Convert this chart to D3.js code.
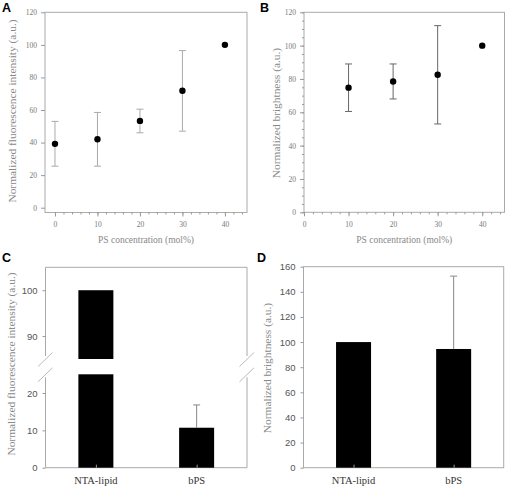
<!DOCTYPE html>
<html><head><meta charset="utf-8">
<script src="https://cdn.jsdelivr.net/npm/d3@7"></script>
<style>
body{margin:0;background:#fff;}
svg{display:block;}
</style></head>
<body>
<svg id="c" width="506" height="487"></svg>
<script>
// ---- data ----
const psA = [0, 10, 20, 30, 40];
const meanA = [39.2, 42, 53.3, 71.8, 100];
const lowA = [25.5, 25.5, 46, 47, null];
const highA = [53, 58.5, 60.5, 96.5, null];

const psB = [10, 20, 30, 40];
const meanB = [74.8, 78.5, 82.5, 100];
const lowB = [60.5, 68, 53, null];
const highB = [89, 89, 112, null];

const catsCD = ["NTA-lipid", "bPS"];
const meanC = [100, 10.7];
const errC = [null, 6.1];
const meanD = [100, 94.5];
const errD = [null, 58];

const ticksA_y = [0, 20, 40, 60, 80, 100, 120];
const ticksA_x = [0, 10, 20, 30, 40];
const ticksB_y = [0, 20, 40, 60, 80, 100, 120];
const ticksB_x = [0, 10, 20, 30, 40];
const ticksC_upper = [90, 100];
const ticksC_lower = [0, 10, 20];
const ticksD_y = [0, 20, 40, 60, 80, 100, 120, 140, 160];

const svg = d3.select("#c");
const serif = "'Liberation Serif','Times New Roman',serif";
const sans = "'Liberation Sans',Arial,sans-serif";
const axisCol = "#999";
const tickTxt = "#777";

function styleAxis(g, fontFam, fontSize, col) {
  g.select(".domain").remove();
  g.selectAll(".tick line").attr("stroke", axisCol);
  g.selectAll(".tick text").attr("fill", col).style("font-family", fontFam).style("font-size", fontSize + "px");
}
function frame(x0, x1, y0, y1) {
  svg.append("rect").attr("x", x0).attr("y", y0).attr("width", x1 - x0).attr("height", y1 - y0)
    .attr("fill", "none").attr("stroke", "#aaa").attr("stroke-width", 1);
}
function letter(t, x, y) {
  svg.append("text").attr("x", x).attr("y", y).text(t)
    .style("font-family", sans).style("font-weight", "bold").style("font-size", "12.5px").attr("fill", "#000");
}
function ylabel(t, x, y, size) {
  svg.append("text").attr("transform", `translate(${x},${y}) rotate(-90)`).attr("text-anchor", "middle")
    .attr("dominant-baseline", "middle")
    .text(t).style("font-family", serif).style("font-size", size + "px").attr("fill", "#888");
}
function xlabel(t, x, y, size) {
  svg.append("text").attr("x", x).attr("y", y).attr("text-anchor", "middle")
    .text(t).style("font-family", serif).style("font-size", size + "px").attr("fill", "#888");
}

// ---------- Panel A ----------
{
  const L = 45, R = 247, T = 12.3, B = 212.5;
  const x = d3.scaleLinear().domain([-2.35, 45.2]).range([L, R]);
  const y = d3.scaleLinear().domain([-2.95, 120]).range([B, T]);
  frame(L, R, T, B);
  svg.append("g").attr("transform", `translate(0,${B})`)
    .call(d3.axisBottom(x).tickValues(d3.range(0, 45, 2)).tickSize(2).tickFormat(""))
    .call(g => styleAxis(g, serif, 7.5, tickTxt));
  svg.append("g").attr("transform", `translate(0,${B})`)
    .call(d3.axisBottom(x).tickValues(ticksA_x).tickSize(4).tickPadding(5))
    .call(g => styleAxis(g, serif, 7.5, tickTxt));
  svg.append("g").attr("transform", `translate(${L},0)`)
    .call(d3.axisLeft(y).tickValues(ticksA_y).tickSize(4).tickPadding(4))
    .call(g => styleAxis(g, serif, 7.5, tickTxt));
  const idx = d3.range(psA.length).filter(i => lowA[i] != null);
  const eb = svg.append("g").attr("stroke", "#aaa").attr("stroke-width", 1);
  eb.selectAll(".v").data(idx).join("line").attr("x1", i => x(psA[i])).attr("x2", i => x(psA[i]))
    .attr("y1", i => y(lowA[i])).attr("y2", i => y(highA[i]));
  eb.selectAll(".t").data(idx).join("line").attr("x1", i => x(psA[i]) - 3.5).attr("x2", i => x(psA[i]) + 3.5)
    .attr("y1", i => y(highA[i])).attr("y2", i => y(highA[i]));
  eb.selectAll(".b").data(idx).join("line").attr("x1", i => x(psA[i]) - 3.5).attr("x2", i => x(psA[i]) + 3.5)
    .attr("y1", i => y(lowA[i])).attr("y2", i => y(lowA[i]));
  svg.append("g").selectAll("circle").data(psA).join("circle")
    .attr("cx", d => x(d)).attr("cy", (d, i) => y(meanA[i])).attr("r", 3.2).attr("fill", "#000");
  letter("A", 2, 12);
  ylabel("Normalized fluorescence intensity (a.u.)", 13, 111, 11.4);
  xlabel("PS concentration (mol%)", (L + R) / 2, 243, 9.5);
}

// ---------- Panel B ----------
{
  const L = 304, R = 504.5, T = 12.3, B = 212.3;
  const x = d3.scaleLinear().domain([0, 45]).range([L, R]);
  const y = d3.scaleLinear().domain([0, 120]).range([B, T]);
  frame(L, R, T, B);
  svg.append("g").attr("transform", `translate(0,${B})`)
    .call(d3.axisBottom(x).tickValues(d3.range(0, 45, 2)).tickSize(2).tickFormat(""))
    .call(g => styleAxis(g, serif, 7.5, tickTxt));
  svg.append("g").attr("transform", `translate(0,${B})`)
    .call(d3.axisBottom(x).tickValues(ticksB_x).tickSize(4).tickPadding(5))
    .call(g => styleAxis(g, serif, 7.5, tickTxt));
  svg.append("g").attr("transform", `translate(${L},0)`)
    .call(d3.axisLeft(y).tickValues(d3.range(0, 121, 5)).tickSize(2).tickFormat(""))
    .call(g => styleAxis(g, serif, 7.5, tickTxt));
  svg.append("g").attr("transform", `translate(${L},0)`)
    .call(d3.axisLeft(y).tickValues(ticksB_y).tickSize(4).tickPadding(4))
    .call(g => styleAxis(g, serif, 7.5, tickTxt));
  const idx = d3.range(psB.length).filter(i => lowB[i] != null);
  const eb = svg.append("g").attr("stroke", "#666").attr("stroke-width", 1);
  eb.selectAll(".v").data(idx).join("line").attr("x1", i => x(psB[i])).attr("x2", i => x(psB[i]))
    .attr("y1", i => y(lowB[i])).attr("y2", i => y(highB[i]));
  eb.selectAll(".t").data(idx).join("line").attr("x1", i => x(psB[i]) - 3.5).attr("x2", i => x(psB[i]) + 3.5)
    .attr("y1", i => y(highB[i])).attr("y2", i => y(highB[i]));
  eb.selectAll(".b").data(idx).join("line").attr("x1", i => x(psB[i]) - 3.5).attr("x2", i => x(psB[i]) + 3.5)
    .attr("y1", i => y(lowB[i])).attr("y2", i => y(lowB[i]));
  svg.append("g").selectAll("circle").data(psB).join("circle")
    .attr("cx", d => x(d)).attr("cy", (d, i) => y(meanB[i])).attr("r", 3.2).attr("fill", "#000");
  letter("B", 260, 12);
  ylabel("Normalized brightness (a.u.)", 277, 113, 11.4);
  xlabel("PS concentration (mol%)", (L + R) / 2, 243, 9.5);
}

// ---------- Panel C (broken axis) ----------
{
  const L = 45.5, R = 247, T = 267.3, B = 467.7;
  const x = d3.scalePoint().domain(catsCD).range([L, R]).padding(0.5);
  const yU = d3.scaleLinear().domain([85, 105]).range([359, T]);
  const yL = d3.scaleLinear().domain([0, 25]).range([B, 374.3]);
  const bw = 35;
  // frame with breaks
  const fr = svg.append("g").attr("stroke", "#aaa").attr("fill", "none");
  fr.append("line").attr("x1", L).attr("x2", R).attr("y1", T).attr("y2", T);
  fr.append("line").attr("x1", L).attr("x2", R).attr("y1", B).attr("y2", B);
  [L, R].forEach(xx => {
    fr.append("line").attr("x1", xx).attr("x2", xx).attr("y1", T).attr("y2", yU(85) - 3);
    fr.append("line").attr("x1", xx).attr("x2", xx).attr("y1", yL(25) + 3).attr("y2", B);
    [yU(85) + 0.5, yL(25) + 0.5].forEach(yy => {
      fr.append("line").attr("x1", xx - 7.5).attr("x2", xx + 7).attr("y1", yy + 7).attr("y2", yy - 7)
        .attr("stroke", "#bbb");
    });
  });
  svg.append("g").attr("transform", `translate(${L},0)`)
    .call(d3.axisLeft(yU).tickValues(ticksC_upper).tickSize(3).tickPadding(5))
    .call(g => styleAxis(g, sans, 9.5, "#555"));
  svg.append("g").attr("transform", `translate(${L},0)`)
    .call(d3.axisLeft(yL).tickValues(ticksC_lower).tickSize(3).tickPadding(5))
    .call(g => styleAxis(g, sans, 9.5, "#555"));
  // bars: upper and lower parts
  const bars = svg.append("g").attr("fill", "#000");
  bars.selectAll(".u").data(catsCD.filter((c, i) => meanC[i] > 85)).join("rect")
    .attr("x", d => x(d) - bw / 2).attr("width", bw)
    .attr("y", d => yU(Math.min(meanC[catsCD.indexOf(d)], 105))).attr("height", d => yU(85) - yU(meanC[catsCD.indexOf(d)]));
  bars.selectAll(".l").data(catsCD).join("rect")
    .attr("x", d => x(d) - bw / 2).attr("width", bw)
    .attr("y", (d, i) => yL(Math.min(meanC[i], 25))).attr("height", (d, i) => yL(0) - yL(Math.min(meanC[i], 25)));
  const ei = d3.range(catsCD.length).filter(i => errC[i] != null);
  const eb = svg.append("g").attr("stroke", "#888");
  eb.selectAll(".v").data(ei).join("line").attr("x1", i => x(catsCD[i])).attr("x2", i => x(catsCD[i]))
    .attr("y1", i => yL(meanC[i])).attr("y2", i => yL(meanC[i] + errC[i]));
  eb.selectAll(".c").data(ei).join("line").attr("x1", i => x(catsCD[i]) - 3.5).attr("x2", i => x(catsCD[i]) + 3.5)
    .attr("y1", i => yL(meanC[i] + errC[i])).attr("y2", i => yL(meanC[i] + errC[i]));
  svg.append("g").attr("transform", `translate(0,${B})`)
    .call(d3.axisTop(x).tickSize(3).tickFormat(""))
    .call(g => styleAxis(g, serif, 10.5, "#333"));
  svg.append("g").selectAll("text").data(catsCD).join("text")
    .attr("x", d => x(d)).attr("y", 484).attr("text-anchor", "middle").text(d => d)
    .style("font-family", serif).style("font-size", "10.5px").attr("fill", "#333");
  letter("C", 2, 262);
  ylabel("Normalized fluorescence intensity (a.u.)", 12, 364, 11.4);
}

// ---------- Panel D ----------
{
  const L = 303.5, R = 503.7, T = 266.7, B = 467.7;
  const x = d3.scalePoint().domain(catsCD).range([L, R]).padding(0.5);
  const y = d3.scaleLinear().domain([0, 160]).range([B, T]);
  const bw = 35;
  frame(L, R, T, B);
  svg.append("g").attr("transform", `translate(${L},0)`)
    .call(d3.axisLeft(y).tickValues(ticksD_y).tickSize(3).tickPadding(5))
    .call(g => styleAxis(g, sans, 9.5, "#555"));
  svg.append("g").attr("fill", "#000").selectAll("rect").data(catsCD).join("rect")
    .attr("x", d => x(d) - bw / 2).attr("width", bw)
    .attr("y", (d, i) => y(meanD[i])).attr("height", (d, i) => y(0) - y(meanD[i]));
  const ei = d3.range(catsCD.length).filter(i => errD[i] != null);
  const eb = svg.append("g").attr("stroke", "#888");
  eb.selectAll(".v").data(ei).join("line").attr("x1", i => x(catsCD[i])).attr("x2", i => x(catsCD[i]))
    .attr("y1", i => y(meanD[i])).attr("y2", i => y(meanD[i] + errD[i]));
  eb.selectAll(".c").data(ei).join("line").attr("x1", i => x(catsCD[i]) - 3.5).attr("x2", i => x(catsCD[i]) + 3.5)
    .attr("y1", i => y(meanD[i] + errD[i])).attr("y2", i => y(meanD[i] + errD[i]));
  svg.append("g").attr("transform", `translate(0,${B})`)
    .call(d3.axisTop(x).tickSize(3).tickFormat(""))
    .call(g => styleAxis(g, serif, 10.5, "#333"));
  svg.append("g").selectAll("text").data(catsCD).join("text")
    .attr("x", d => x(d)).attr("y", 484).attr("text-anchor", "middle").text(d => d)
    .style("font-family", serif).style("font-size", "10.5px").attr("fill", "#333");
  letter("D", 257, 262);
  ylabel("Normalized brightness (a.u.)", 268, 368, 11.4);
}
</script>
</body></html>
